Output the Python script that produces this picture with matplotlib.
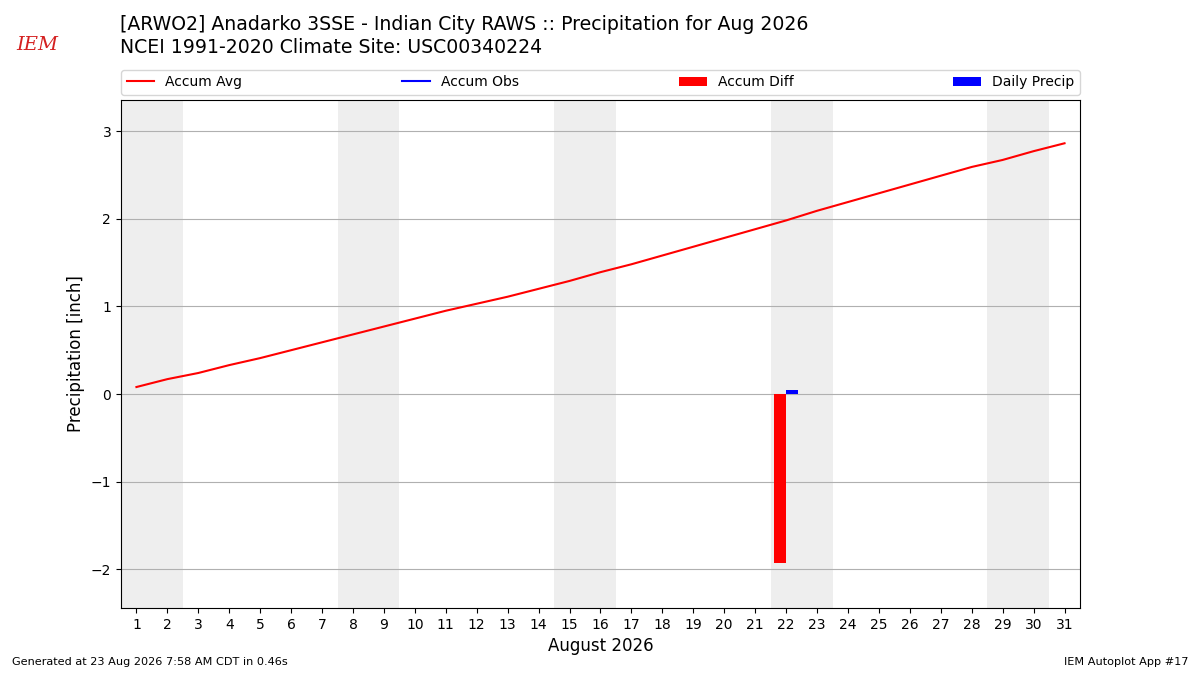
import matplotlib
matplotlib.use("Agg")
import matplotlib.pyplot as plt

# data
days = list(range(1, 32))
accum_avg = [0.08, 0.17, 0.24, 0.33, 0.41, 0.50, 0.59, 0.68, 0.77, 0.86,
             0.95, 1.03, 1.11, 1.20, 1.29, 1.39, 1.48, 1.58, 1.68, 1.78,
             1.88, 1.98, 2.09, 2.19, 2.29, 2.39, 2.49, 2.59, 2.67, 2.77,
             2.86]
obs_days = [22]
daily_precip = [0.05]
accum_obs = [0.05]
accum_diff = [-1.93]
weekends = [1, 8, 15, 22, 29]  # first day of each Sat/Sun pair

fig = plt.figure(figsize=(12, 6.75), dpi=100)
ax = fig.add_axes([0.1008, 0.0993, 0.7992, 0.7526])

for w in weekends:
    ax.axvspan(w - 0.5, w + 1.5, color='#eeeeee', zorder=0, lw=0)

ax.plot(days, accum_avg, color='r', lw=1.5, label='Accum Avg', zorder=3)
ax.plot(obs_days, accum_obs, color='b', lw=1.5, label='Accum Obs', zorder=3)
ax.bar([d - 0.4 for d in obs_days], accum_diff, width=0.4, align='edge',
       color='r', label='Accum Diff', zorder=2)
ax.bar(obs_days, daily_precip, width=0.4, align='edge',
       color='b', label='Daily Precip', zorder=2)

ax.set_xlim(0.5, 31.5)
ax.set_ylim(-2.44, 3.354)
ax.set_xticks(days)
ax.set_yticks([-2, -1, 0, 1, 2, 3])
ax.grid(axis='y', color='#b0b0b0', lw=0.8, zorder=1)
ax.set_axisbelow(True)
ax.set_xlabel('August 2026', fontsize=12)
ax.set_ylabel('Precipitation [inch]', fontsize=12)
ax.legend(loc='lower left', bbox_to_anchor=(0, 1.01, 1, 0.05), ncol=4,
          mode='expand', borderaxespad=0, fontsize=10)

fig.text(0.1, 0.963, '[ARWO2] Anadarko 3SSE - Indian City RAWS :: Precipitation for Aug 2026',
         fontsize=13.6, va='center')
fig.text(0.1, 0.929, 'NCEI 1991-2020 Climate Site: USC00340224',
         fontsize=13.6, va='center')
fig.text(0.031, 0.933, 'IEM', fontsize=14, color='#d42020', style='italic',
         family='DejaVu Serif', va='center', ha='center')
fig.text(0.01, 0.015, 'Generated at 23 Aug 2026 7:58 AM CDT in 0.46s', fontsize=8.1)
fig.text(0.99, 0.015, 'IEM Autoplot App #17', fontsize=8.1, ha='right')

fig.savefig('out.png', dpi=100)
